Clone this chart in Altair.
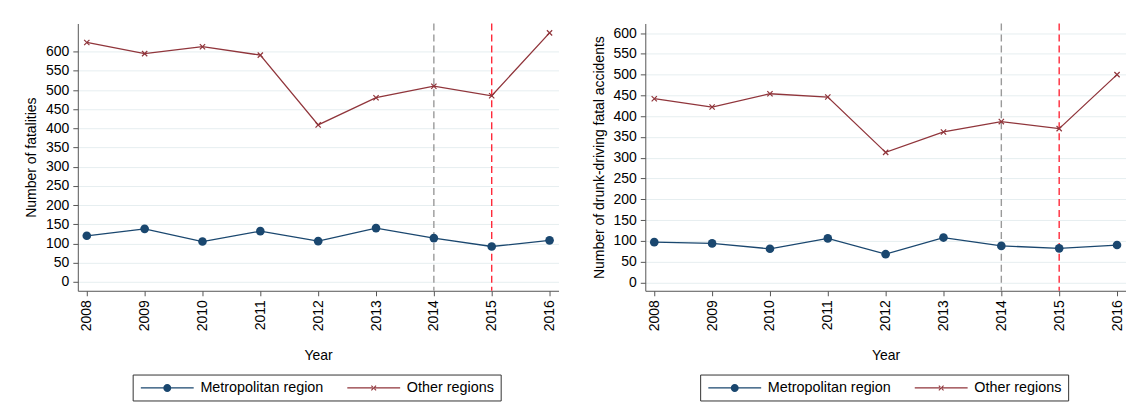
import altair as alt
import pandas as pd

years = [2008, 2009, 2010, 2011, 2012, 2013, 2014, 2015, 2016]
series_names = ["Metropolitan region", "Other regions"]

fatal_metro = [120, 138, 105, 132, 106, 140, 114, 92, 108]
fatal_other = [624, 595, 613, 591, 409, 480, 510, 485, 649]
drunk_metro = [97, 94, 81, 106, 68, 108, 88, 82, 90]
drunk_other = [442, 422, 454, 446, 313, 362, 387, 370, 500]

ref_gray_year = [2014]
ref_red_year = [2015]
y_ticks = list(range(0, 601, 50))

NAVY = "#1a476f"
MAROON = "#90353b"
FONT = "Liberation Sans"
X_PATH = "M-1,-1L1,1M-1,1L1,-1"
LEG_METRO = ("M-5.3,-0.13H5.3V0.13H-5.3Z "
             "M0.8,0A0.8,0.8,0,1,1,-0.8,0A0.8,0.8,0,1,1,0.8,0Z")
LEG_OTHER = ("M-5.3,-0.13H5.3V0.13H-5.3Z "
             "M-0.55,-0.4L0.4,0.55L0.55,0.4L-0.4,-0.55Z "
             "M-0.55,0.4L0.4,-0.55L0.55,-0.4L-0.4,0.55Z")


def panel(metro, other, ytitle, ydom):
    df = pd.DataFrame({
        "year": years * 2,
        "value": metro + other,
        "series": [series_names[0]] * len(years) + [series_names[1]] * len(years),
    })
    base = alt.Chart(df)
    x = alt.X("year:Q",
              scale=alt.Scale(domain=[2008 - 9 / 58, 2016 + 9 / 58], nice=False, zero=False),
              axis=alt.Axis(values=years, format="d", labelAngle=-90, title="Year",
                            grid=False, domainColor="#555", tickColor="#555", tickSize=5,
                            labelFont=FONT, labelFontSize=14, labelColor="#000", labelPadding=4,
                            titleFont=FONT, titleFontSize=14, titleFontWeight="normal",
                            titleColor="#000", titlePadding=18))
    y = alt.Y("value:Q",
              scale=alt.Scale(domain=ydom, nice=False, zero=False),
              axis=alt.Axis(values=y_ticks, title=ytitle, grid=True, gridColor="#e6eef0",
                            domainColor="#555", tickColor="#555", tickSize=5,
                            labelFont=FONT, labelFontSize=14, labelColor="#000", labelPadding=4,
                            titleFont=FONT, titleFontSize=14, titleFontWeight="normal",
                            titleColor="#000", titlePadding=7))

    m = base.transform_filter(alt.datum.series == series_names[0])
    o = base.transform_filter(alt.datum.series == series_names[1])
    metro_line = m.mark_line(color=NAVY, strokeWidth=1.3).encode(x=x, y=y)
    metro_pts = m.mark_point(color=NAVY, filled=True, size=75, opacity=1).encode(x=x, y=y)
    other_line = o.mark_line(color=MAROON, strokeWidth=1.3).encode(x=x, y=y)
    other_pts = o.mark_point(color=MAROON, shape=X_PATH, filled=False, size=28,
                             strokeWidth=1.2, opacity=1).encode(x=x, y=y)

    rule_gray = alt.Chart(pd.DataFrame({"year": ref_gray_year})).mark_rule(
        color="#9a9a9a", strokeDash=[7, 4], strokeWidth=1.4).encode(x=x)
    rule_red = alt.Chart(pd.DataFrame({"year": ref_red_year})).mark_rule(
        color="#ff2a3a", strokeDash=[7, 4], strokeWidth=1.4).encode(x=x)

    leg = alt.Legend(orient="none", legendX=55, legendY=352, direction="horizontal",
                     columns=2, title=None, labelFont=FONT, labelFontSize=14.4,
                     labelColor="#000", symbolSize=100, symbolOffset=21.5, labelOffset=26,
                     columnPadding=21, padding=6, strokeColor="#333", fillColor="white",
                     symbolStrokeWidth=0, labelLimit=400)
    legend_layer = base.mark_point(filled=True, size=100, opacity=1).encode(
        color=alt.Color("series:N", scale=alt.Scale(domain=series_names, range=[NAVY, MAROON]),
                        legend=leg),
        shape=alt.Shape("series:N", scale=alt.Scale(domain=series_names, range=[LEG_METRO, LEG_OTHER]),
                        legend=leg),
    ).transform_filter("false")

    return alt.layer(rule_gray, rule_red, metro_line, other_line, metro_pts, other_pts,
                     legend_layer).properties(width=482, height=268)


left = panel(fatal_metro, fatal_other, "Number of fatalities", [-23.4, 673.5])
right = panel(drunk_metro, drunk_other, "Number of drunk-driving fatal accidents", [-20, 623])

chart = alt.hconcat(left, right, spacing=33).resolve_scale(
    color="independent", shape="independent"
).properties(
    padding={"left": 16, "top": 14, "right": 0, "bottom": 0}, background="white"
).configure_view(stroke=None)

chart.save("out.html", embed_options={"renderer": "svg", "actions": False})
